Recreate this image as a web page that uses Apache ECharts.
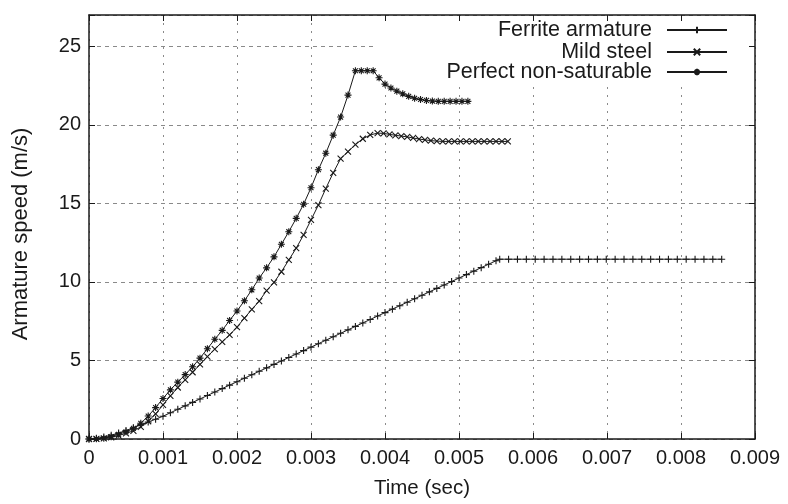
<!DOCTYPE html>
<html>
<head>
<meta charset="utf-8">
<script src="https://cdn.jsdelivr.net/npm/echarts@6/dist/echarts.min.js"></script>
<style>
  html, body { margin: 0; padding: 0; background: #fff; }
  #chart { width: 788px; height: 504px; }
</style>
</head>
<body>
<div id="chart"></div>
<script>
// time in ms, speed in m/s
var ferriteTime = [0,0.1,0.2,0.3,0.4,0.5,0.6,0.7,0.8,0.9,1.0,1.1,1.2,1.3,1.4,1.5,1.6,1.7,1.8,1.9,2.0,
  2.1,2.2,2.3,2.4,2.5,2.6,2.7,2.8,2.9,3.0,3.1,3.2,3.3,3.4,3.5,3.6,3.7,3.8,3.9,4.0,4.1,4.2,4.3,4.4,4.5,
  4.6,4.7,4.8,4.9,5.0,5.1,5.2,5.3,5.4,5.5,5.55,5.67,5.79,5.91,6.03,6.15,6.27,6.39,6.51,6.63,6.75,6.87,
  6.99,7.11,7.23,7.35,7.47,7.59,7.71,7.83,7.95,8.07,8.19,8.31,8.43,8.55];
var ferriteSpeed = [0,0.04,0.12,0.24,0.38,0.54,0.72,0.9,1.08,1.26,1.45,1.67,1.89,2.11,2.33,2.55,2.77,2.99,3.21,3.43,3.65,
  3.87,4.09,4.31,4.53,4.75,4.97,5.19,5.41,5.63,5.85,6.07,6.29,6.51,6.73,6.95,7.17,7.39,7.61,7.83,8.05,8.27,8.49,8.71,8.93,9.15,
  9.37,9.59,9.81,10.03,10.25,10.47,10.69,10.91,11.13,11.35,11.45,11.45,11.45,11.45,11.45,11.45,11.45,11.45,11.45,11.45,11.45,11.45,
  11.45,11.45,11.45,11.45,11.45,11.45,11.45,11.45,11.45,11.45,11.45,11.45,11.45,11.45];

var mildTime = [0,0.1,0.2,0.3,0.4,0.5,0.6,0.7,0.8,0.9,1.0,1.1,1.2,1.3,1.4,1.5,1.6,1.7,1.8,1.9,2.0,
  2.1,2.2,2.3,2.4,2.5,2.6,2.7,2.8,2.9,3.0,3.1,3.2,3.3,3.4,3.5,3.6,3.7,3.8,3.9,3.98,4.06,4.14,4.22,4.3,
  4.38,4.46,4.54,4.62,4.7,4.78,4.86,4.94,5.02,5.1,5.18,5.26,5.34,5.42,5.5,5.58,5.66];
var mildSpeed = [0,0.01,0.04,0.1,0.22,0.36,0.52,0.77,1.13,1.6,2.17,2.75,3.28,3.77,4.25,4.75,5.25,5.72,6.18,6.63,7.12,
  7.7,8.25,8.78,9.45,9.97,10.65,11.4,12.15,13.0,13.95,14.9,15.95,16.95,17.85,18.3,18.75,19.12,19.36,19.48,19.46,19.4,19.34,19.29,19.24,
  19.17,19.1,19.05,19.0,18.97,18.95,18.95,18.95,18.95,18.95,18.95,18.95,18.95,18.95,18.95,18.95,18.95];

var perfectTime = [0,0.1,0.2,0.3,0.4,0.5,0.6,0.7,0.8,0.9,1.0,1.1,1.2,1.3,1.4,1.5,1.6,1.7,1.8,1.9,2.0,
  2.1,2.2,2.3,2.4,2.5,2.6,2.7,2.8,2.9,3.0,3.1,3.2,3.3,3.4,3.5,3.6,3.68,3.76,3.84,3.92,4.0,4.08,4.16,4.24,
  4.32,4.4,4.48,4.56,4.64,4.72,4.8,4.88,4.96,5.04,5.12];
var perfectSpeed = [0,0.01,0.05,0.15,0.3,0.46,0.68,1.0,1.46,2.0,2.58,3.13,3.62,4.1,4.6,5.15,5.75,6.35,6.92,7.55,8.15,
  8.8,9.5,10.25,10.9,11.6,12.4,13.2,14.05,14.95,16.0,17.15,18.2,19.35,20.5,21.9,23.45,23.45,23.45,23.45,23.0,22.6,22.35,22.15,21.98,
  21.82,21.7,21.62,21.56,21.52,21.5,21.5,21.5,21.5,21.5,21.5];

var seriesNames = ['Ferrite armature', 'Mild steel', 'Perfect non-saturable'];
var legendTops = [19, 41, 61];

var font = 'Liberation Sans, Arial, Helvetica, sans-serif';
var ink = '#1a1a1a';

var plusSym = 'path://M0,5L10,5M5,0L5,10';
var crossSym = 'path://M0,0L10,10M10,0L0,10';
var starSym = 'path://M0,5L10,5M5,0L5,10M1.5,1.5L8.5,8.5M8.5,1.5L1.5,8.5';

function pairs(ts, vs) {
  var out = [];
  for (var i = 0; i < ts.length; i++) {
    out.push([ts[i] / 1000, vs[i]]);
  }
  return out;
}

function makeSeries(name, ts, vs, sym, size) {
  return {
    name: name,
    type: 'line',
    data: pairs(ts, vs),
    symbol: sym,
    symbolSize: size,
    showSymbol: true,
    showAllSymbol: true,
    lineStyle: { color: ink, width: 1 },
    itemStyle: { color: ink, borderColor: ink, borderWidth: 1.1 },
    emphasis: { disabled: true }
  };
}

var chart = echarts.init(document.getElementById('chart'));

var legends = [];
for (var i = 0; i < seriesNames.length; i++) {
  legends.push({
    data: [seriesNames[i]],
    orient: 'vertical',
    right: 60,
    top: legendTops[i],
    align: 'right',
    padding: 0,
    itemWidth: 60,
    itemHeight: 8,
    selectedMode: false,
    textStyle: { fontSize: 21.5, fontFamily: font, color: ink, padding: [0, 10, 0, 0] }
  });
}

var baseAxisLine = { show: true, onZero: false, lineStyle: { color: ink, width: 1.5 } };
var baseTick = { show: true, inside: true, length: 6, lineStyle: { color: ink, width: 1 } };

chart.setOption({
  animation: false,
  backgroundColor: '#fff',
  grid: { left: 89, right: 33, top: 15, bottom: 62 },
  legend: legends,
  graphic: [{
    type: 'rect',
    z: 1,
    shape: { x: 377, y: 16, width: 377, height: 67 },
    style: { fill: '#fff' },
    silent: true
  }],
  xAxis: [{
    type: 'value',
    position: 'bottom',
    min: 0, max: 0.009, interval: 0.001,
    name: 'Time (sec)',
    nameLocation: 'middle',
    nameGap: 39,
    nameTextStyle: { fontSize: 20.5, fontFamily: font, color: ink },
    axisLine: baseAxisLine,
    axisTick: baseTick,
    axisLabel: {
      margin: 9, fontSize: 20, fontFamily: font, color: ink,
      formatter: function (v) { return v === 0 ? '0' : v.toFixed(3); }
    },
    splitLine: { show: true, lineStyle: { color: '#8a8a8a', width: 1, type: [2, 6] } }
  }, {
    type: 'value',
    position: 'top',
    z: 5,
    min: 0, max: 0.009, interval: 0.001,
    axisLine: baseAxisLine,
    axisTick: baseTick,
    axisLabel: { show: false },
    splitLine: { show: false }
  }],
  yAxis: [{
    type: 'value',
    position: 'left',
    min: 0, max: 27, interval: 5,
    name: 'Armature speed (m/s)',
    nameLocation: 'middle',
    nameGap: 57,
    nameTextStyle: { fontSize: 22, fontFamily: font, color: ink, padding: [0, 14, 0, 0] },
    axisLine: baseAxisLine,
    axisTick: baseTick,
    axisLabel: {
      margin: 8, fontSize: 20, fontFamily: font, color: ink,
      formatter: function (v) { return v % 5 === 0 ? String(v) : ''; }
    },
    splitLine: { show: true, lineStyle: { color: '#8a8a8a', width: 1, type: [4, 4] } }
  }, {
    type: 'value',
    position: 'right',
    z: 5,
    min: 0, max: 27, interval: 5,
    axisLine: baseAxisLine,
    axisTick: baseTick,
    axisLabel: { show: false },
    splitLine: { show: false }
  }],
  series: [
    makeSeries(seriesNames[0], ferriteTime, ferriteSpeed, plusSym, 7),
    makeSeries(seriesNames[1], mildTime, mildSpeed, crossSym, 6),
    makeSeries(seriesNames[2], perfectTime, perfectSpeed, starSym, 7)
  ]
});
</script>
</body>
</html>
